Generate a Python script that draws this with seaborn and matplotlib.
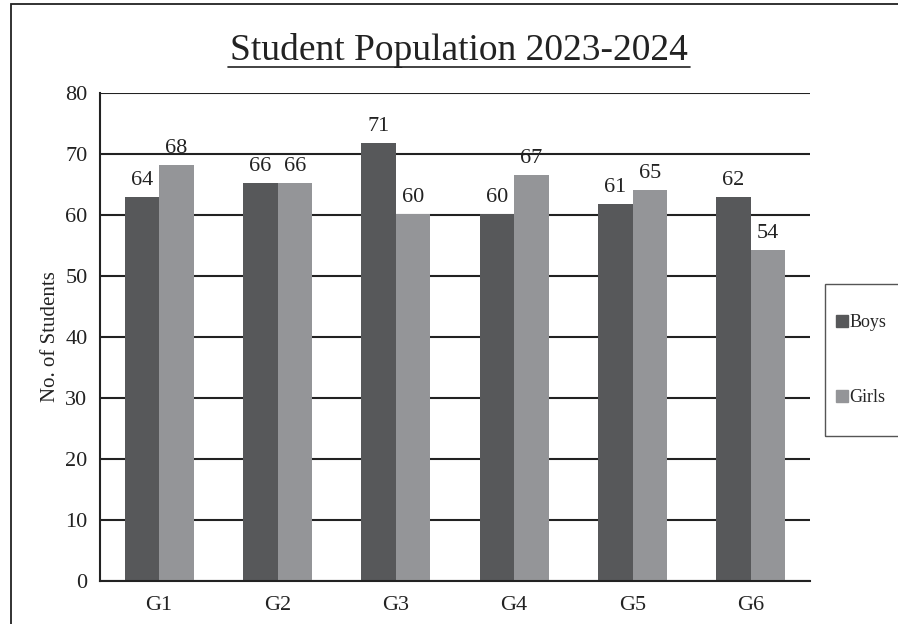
import numpy as np
import pandas as pd
import seaborn as sns
import matplotlib.pyplot as plt
from matplotlib.patches import Rectangle

# ---- data ----
grades = ["G1", "G2", "G3", "G4", "G5", "G6"]
boys = [63.0, 65.3, 71.8, 60.2, 61.8, 63.0]     # bar heights as drawn
girls = [68.2, 65.3, 60.2, 66.6, 64.1, 54.3]
boys_labels = ["64", "66", "71", "60", "61", "62"]  # printed data labels
girls_labels = ["68", "66", "60", "67", "65", "54"]

boys_col = "#57585a"
girls_col = "#949598"

df = pd.DataFrame({
    "Grade": grades * 2,
    "Students": boys + girls,
    "Gender": ["Boys"] * len(grades) + ["Girls"] * len(grades),
})

sns.set_theme(style="white")
plt.rcParams["font.family"] = ["Liberation Serif", "DejaVu Serif"]

fig = plt.figure(figsize=(8.98, 6.24), dpi=100)
ax = fig.add_axes([100 / 898, 1 - 581 / 624, 710 / 898, 488 / 624])

sns.barplot(data=df, x="Grade", y="Students", hue="Gender",
            palette={"Boys": boys_col, "Girls": girls_col},
            width=0.585, saturation=1, linewidth=0, ax=ax, legend=False)

for cont, labs in zip(ax.containers, [boys_labels, girls_labels]):
    ax.bar_label(cont, labels=labs, padding=5, fontsize=16, color="#222222")

ax.set_ylim(0, 80)
ax.set_yticks(range(0, 81, 10))
ax.yaxis.grid(True, color="#222222", linewidth=1.5)
ax.set_axisbelow(True)
for s in ["top", "right"]:
    ax.spines[s].set_visible(False)
for s in ["left", "bottom"]:
    ax.spines[s].set_color("#222222")
    ax.spines[s].set_linewidth(1.5)
ax.tick_params(axis="y", length=0, labelsize=16, colors="#222222", pad=9)
ax.tick_params(axis="x", length=0, labelsize=16, colors="#222222", pad=11)
ax.set_xlabel("")
ax.set_ylabel("No. of Students", fontsize=15, color="#222222")
ax.yaxis.set_label_coords(-0.057, 0.5)

fig.text(459 / 898, 1 - 51 / 624, "Student Population 2023-2024",
         ha="center", va="center", fontsize=27, color="#222222")
# underline of the title
fig.add_artist(plt.Line2D([228 / 898, 690 / 898], [1 - 67 / 624, 1 - 67 / 624],
                          color="#222222", linewidth=1.2))

# outer chart frame
fig.add_artist(Rectangle((11 / 898, -0.1), 1.0, 1 - 4 / 624 + 0.1,
                         fill=False, edgecolor="#222222", linewidth=1.3,
                         transform=fig.transFigure, clip_on=False))

# legend box (runs off the right edge as in the reference)
fig.add_artist(Rectangle((825 / 898, 1 - 436 / 624), 0.2, 152 / 624,
                         fill=False, edgecolor="#555555", linewidth=1.0,
                         transform=fig.transFigure, clip_on=False))
handles = [Rectangle((0, 0), 1, 1, color=boys_col),
           Rectangle((0, 0), 1, 1, color=girls_col)]
leg = fig.legend(handles, ["Boys", "Girls"], loc="center left",
                 bbox_to_anchor=(836 / 898, 1 - 360 / 624),
                 frameon=False, handlelength=0.65, handleheight=0.65,
                 handletextpad=0.1, labelspacing=3.2, borderpad=0,
                 fontsize=13, borderaxespad=0)

fig.savefig("out.png", dpi=100)
